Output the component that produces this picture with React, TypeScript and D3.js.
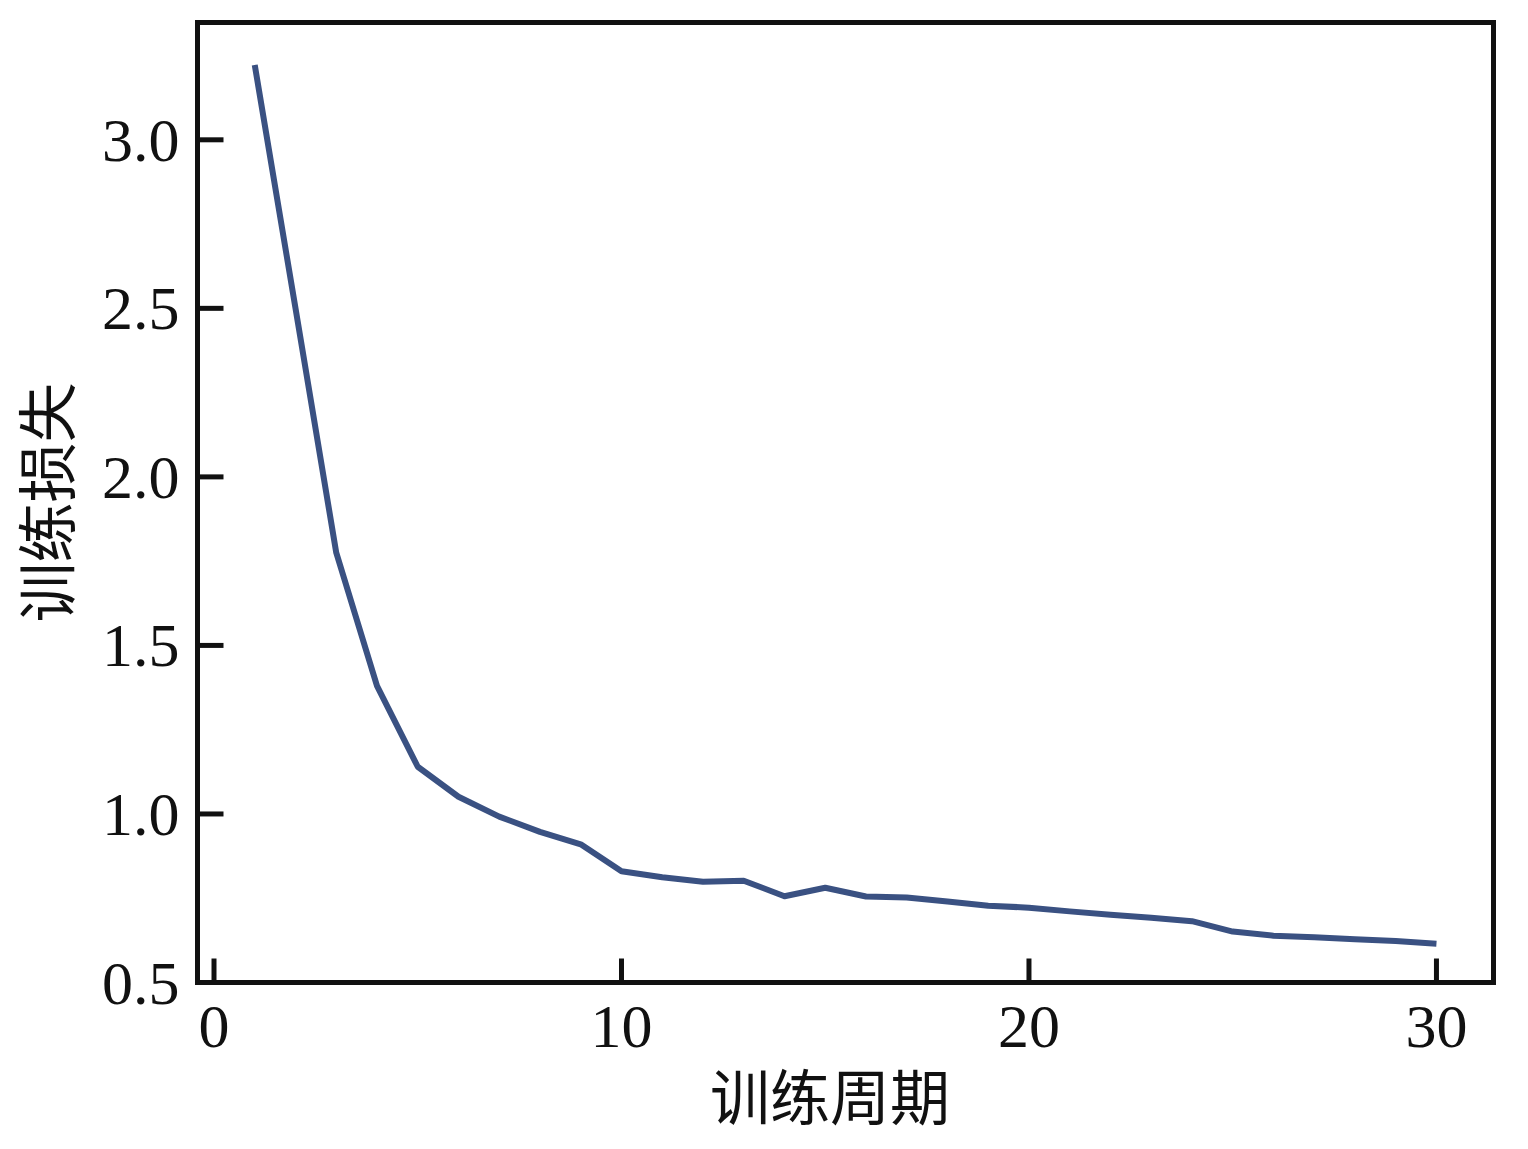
import { useMemo } from "react";
import * as d3 from "d3";

const WIDTH = 1528;
const HEIGHT = 1149;
// frame edges (stroke centres)
const FRAME = { left: 197.5, right: 1493.5, top: 22.5, bottom: 982.5 };

const epochs = [
  1, 2, 3, 4, 5, 6, 7, 8, 9, 10, 11, 12, 13, 14, 15, 16, 17, 18, 19, 20, 21,
  22, 23, 24, 25, 26, 27, 28, 29, 30,
];
const loss = [
  3.222, 2.5, 1.775, 1.38, 1.14, 1.051, 0.992, 0.947, 0.91, 0.83, 0.812, 0.799,
  0.802, 0.756, 0.781, 0.755, 0.752, 0.74, 0.728, 0.722, 0.711, 0.701, 0.692,
  0.682, 0.651, 0.639, 0.634, 0.628, 0.623, 0.615,
];
const xTicks = [0, 10, 20, 30];
const yTicks = [0.5, 1.0, 1.5, 2.0, 2.5, 3.0];

const LINE_COLOR = "#3a5182";
const AXIS_COLOR = "#111111";
const TICK_LEN = 26;
const NUM_FONT = "'Liberation Serif', 'DejaVu Serif', serif";
const CJK_FONT = "'Noto Sans CJK SC', 'Noto Sans CJK JP', sans-serif";

export default function App() {
  const { x, y, path } = useMemo(() => {
    const x = d3
      .scaleLinear()
      .domain([-0.405, 31.4])
      .range([FRAME.left, FRAME.right]);
    const y = d3
      .scaleLinear()
      .domain([0.5, 3.348])
      .range([FRAME.bottom, FRAME.top]);
    const line = d3
      .line<number>()
      .x((_, i) => x(epochs[i]))
      .y((d) => y(d));
    return { x, y, path: line(loss) ?? "" };
  }, []);

  return (
    <svg
      width={WIDTH}
      height={HEIGHT}
      style={{ position: "absolute", left: 0, top: 0, background: "#fff" }}
    >
      {/* data line */}
      <path
        d={path}
        fill="none"
        stroke={LINE_COLOR}
        strokeWidth={6}
        strokeLinejoin="round"
        strokeLinecap="butt"
      />

      {/* ticks pointing inwards */}
      {yTicks.map((t) => (
        <line
          key={`yt${t}`}
          x1={FRAME.left}
          x2={FRAME.left + TICK_LEN}
          y1={y(t)}
          y2={y(t)}
          stroke={AXIS_COLOR}
          strokeWidth={5}
        />
      ))}
      {xTicks.map((t) => (
        <line
          key={`xt${t}`}
          x1={x(t)}
          x2={x(t)}
          y1={FRAME.bottom}
          y2={FRAME.bottom - TICK_LEN + 2}
          stroke={AXIS_COLOR}
          strokeWidth={5}
        />
      ))}

      {/* frame */}
      <rect
        x={FRAME.left}
        y={FRAME.top}
        width={FRAME.right - FRAME.left}
        height={FRAME.bottom - FRAME.top}
        fill="none"
        stroke={AXIS_COLOR}
        strokeWidth={5}
      />

      {/* tick labels */}
      {yTicks.map((t) => (
        <text
          key={`yl${t}`}
          x={FRAME.left - 18}
          y={y(t) + 21}
          textAnchor="end"
          fontFamily={NUM_FONT}
          fontSize={62}
          fill={AXIS_COLOR}
        >
          {t.toFixed(1)}
        </text>
      ))}
      {xTicks.map((t) => (
        <text
          key={`xl${t}`}
          x={x(t)}
          y={1047}
          textAnchor="middle"
          fontFamily={NUM_FONT}
          fontSize={62}
          fill={AXIS_COLOR}
        >
          {t}
        </text>
      ))}

      {/* axis titles */}
      <text
        x={830}
        y={1120}
        textAnchor="middle"
        fontFamily={CJK_FONT}
        fontSize={60}
        fill={AXIS_COLOR}
      >
        训练周期
      </text>
      <text
        transform={`translate(70, ${(FRAME.top + FRAME.bottom) / 2}) rotate(-90)`}
        textAnchor="middle"
        fontFamily={CJK_FONT}
        fontSize={60}
        fill={AXIS_COLOR}
      >
        训练损失
      </text>
    </svg>
  );
}
